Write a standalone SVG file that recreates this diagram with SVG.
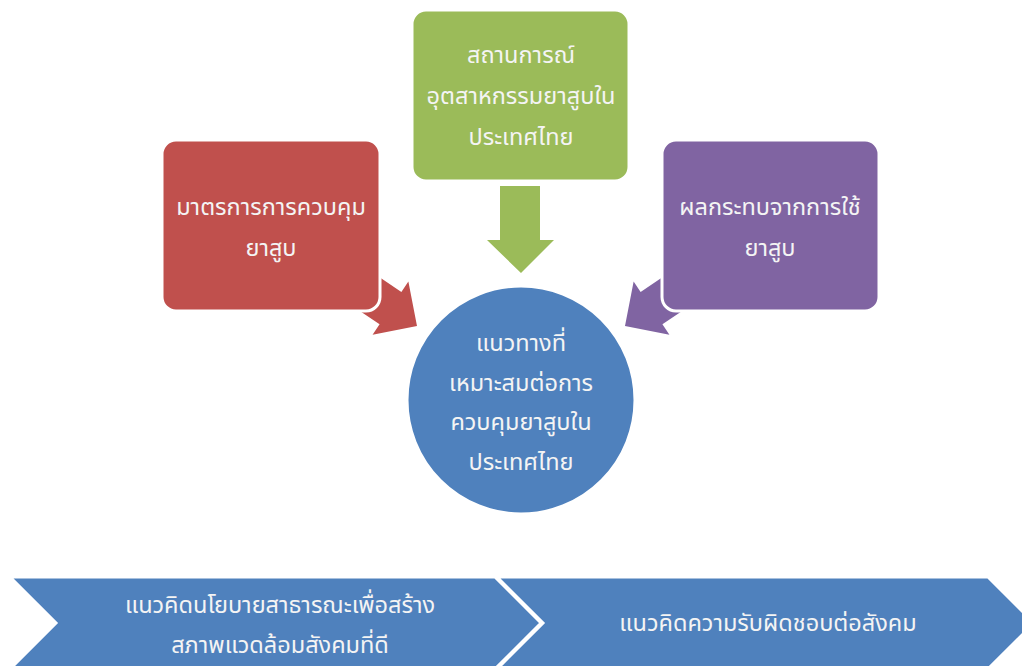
<svg xmlns="http://www.w3.org/2000/svg" width="1022" height="666" viewBox="0 0 1022 666">
<style>
.t{font-family:"Noto Sans Thai","Noto Sans","DejaVu Sans",sans-serif;font-size:23.5px;fill:#f4f4f4;text-anchor:middle}
.box{stroke:#fff;stroke-width:3}
</style>
<rect width="1022" height="666" fill="#fff"/>
<g id="connectors">
  <polygon fill="#C0504D" points="0,0 -32,-32 -32,-19.5 -85,-19.5 -85,19.5 -32,19.5 -32,32" transform="translate(417,326) rotate(34)"/>
  <polygon fill="#8064A2" points="0,0 -32,-32 -32,-19.5 -85,-19.5 -85,19.5 -32,19.5 -32,32" transform="translate(625,326) rotate(146)"/>
  <polygon fill="#9BBB59" points="500,186 540,186 540,240 554,240 521,273 487,240 500,240"/>
</g>
<g id="node-red">
  <rect class="box" x="162" y="140" width="218" height="171" rx="14" fill="#C0504D"/>
  <text class="t" x="271" y="215">มาตรการการควบคุม</text>
  <text class="t" x="271" y="256">ยาสูบ</text>
</g>
<g id="node-green">
  <rect class="box" x="412" y="10" width="217" height="171" rx="14" fill="#9BBB59"/>
  <text class="t" x="521" y="63">สถานการณ์</text>
  <text class="t" x="521" y="104">อุตสาหกรรมยาสูบใน</text>
  <text class="t" x="521" y="145">ประเทศไทย</text>
</g>
<g id="node-purple">
  <rect class="box" x="662" y="140" width="217" height="171" rx="14" fill="#8064A2"/>
  <text class="t" x="770" y="215">ผลกระทบจากการใช้</text>
  <text class="t" x="770" y="256">ยาสูบ</text>
</g>
<g id="node-center">
  <circle class="box" cx="521" cy="400" r="114" fill="#4F81BD"/>
  <text class="t" x="521" y="351">แนวทางที่</text>
  <text class="t" x="521" y="391">เหมาะสมต่อการ</text>
  <text class="t" x="521" y="430">ควบคุมยาสูบใน</text>
  <text class="t" x="521" y="470">ประเทศไทย</text>
</g>
<g id="node-chevron1">
  <polygon class="box" fill="#4F81BD" points="10,577 495,577 541,623 495,669 10,669 56,623"/>
  <text class="t" x="280" y="613">แนวคิดนโยบายสาธารณะเพื่อสร้าง</text>
  <text class="t" x="280" y="653">สภาพแวดล้อมสังคมที่ดี</text>
</g>
<g id="node-chevron2">
  <polygon class="box" fill="#4F81BD" points="497,577 988,577 1034,623 988,669 497,669 543,623"/>
  <text class="t" x="768" y="631">แนวคิดความรับผิดชอบต่อสังคม</text>
</g>
</svg>
